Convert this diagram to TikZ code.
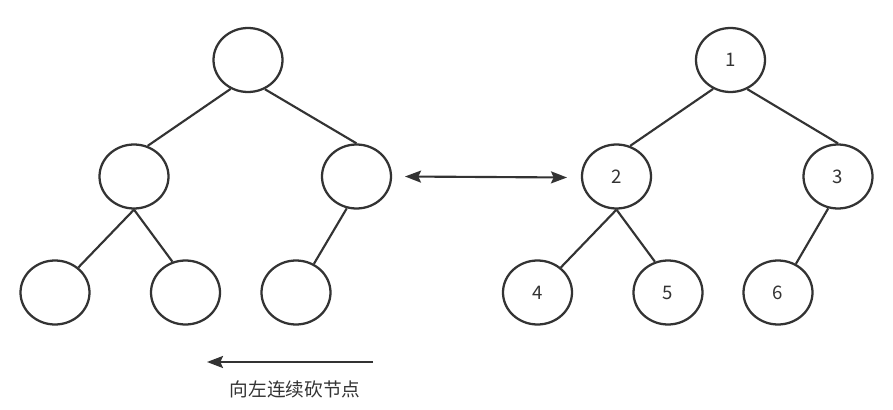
\documentclass[tikz,border=0pt]{standalone}
\usepackage{fontspec}
\setmainfont{Noto Sans CJK SC}
\usetikzlibrary{shapes.geometric,arrows.meta}
\definecolor{ink}{HTML}{333333}
\tikzset{
  tnode/.style={ellipse,draw=ink,line width=1.7pt,minimum width=51.75pt,minimum height=48pt,inner sep=0pt,font=\fontsize{14pt}{16pt}\selectfont,text=ink},
  tedge/.style={draw=ink,line width=1.6pt},
  harrow/.style={draw=ink,line width=1.6pt,-{Stealth[length=12pt,width=9pt,inset=2pt]}},
  darrow/.style={draw=ink,line width=1.6pt,{Stealth[length=12pt,width=9pt,inset=2pt]}-{Stealth[length=12pt,width=9pt,inset=2pt]}}
}
\begin{document}
\begin{tikzpicture}[x=0.75pt,y=-0.75pt]
\useasboundingbox (0,0) rectangle (893,410);
% left tree
\node[tnode] (la) at (248,60) {};
\node[tnode] (lb) at (134,176.5) {};
\node[tnode] (lc) at (356.5,176.5) {};
\node[tnode] (ld) at (55,292.5) {};
\node[tnode] (le) at (185.5,292.5) {};
\node[tnode] (lf) at (296,292.5) {};
\draw[tedge] (la.-121) -- (lb.66);
\draw[tedge] (la.-60) -- (lc.90);
\draw[tedge] (lb.-90) -- (ld.47);
\draw[tedge] (lb.-90) -- (le.113);
\draw[tedge] (lc.-107) -- (lf.58);
% right tree
\node[tnode] (ra) at (730.5,60) {1};
\node[tnode] (rb) at (616.5,176.5) {2};
\node[tnode] (rc) at (838,176.5) {3};
\node[tnode] (rd) at (537.5,292.5) {4};
\node[tnode] (re) at (668,292.5) {5};
\node[tnode] (rf) at (778,292.5) {6};
\draw[tedge] (ra.-121) -- (rb.66);
\draw[tedge] (ra.-60) -- (rc.90);
\draw[tedge] (rb.-90) -- (rd.47);
\draw[tedge] (rb.-90) -- (re.113);
\draw[tedge] (rc.-107) -- (rf.58);
% arrows
\coordinate (dl) at (405,176.5);
\coordinate (dr) at (567,177.5);
\draw[darrow] (dl) -- (dr);
\coordinate (bs) at (373,362);
\coordinate (be) at (207,362);
\draw[harrow] (bs) -- (be);
\node[font=\fontsize{14pt}{16pt}\selectfont,text=ink] (lbl) at (295,389) {向左连续砍节点};
\end{tikzpicture}
\end{document}
